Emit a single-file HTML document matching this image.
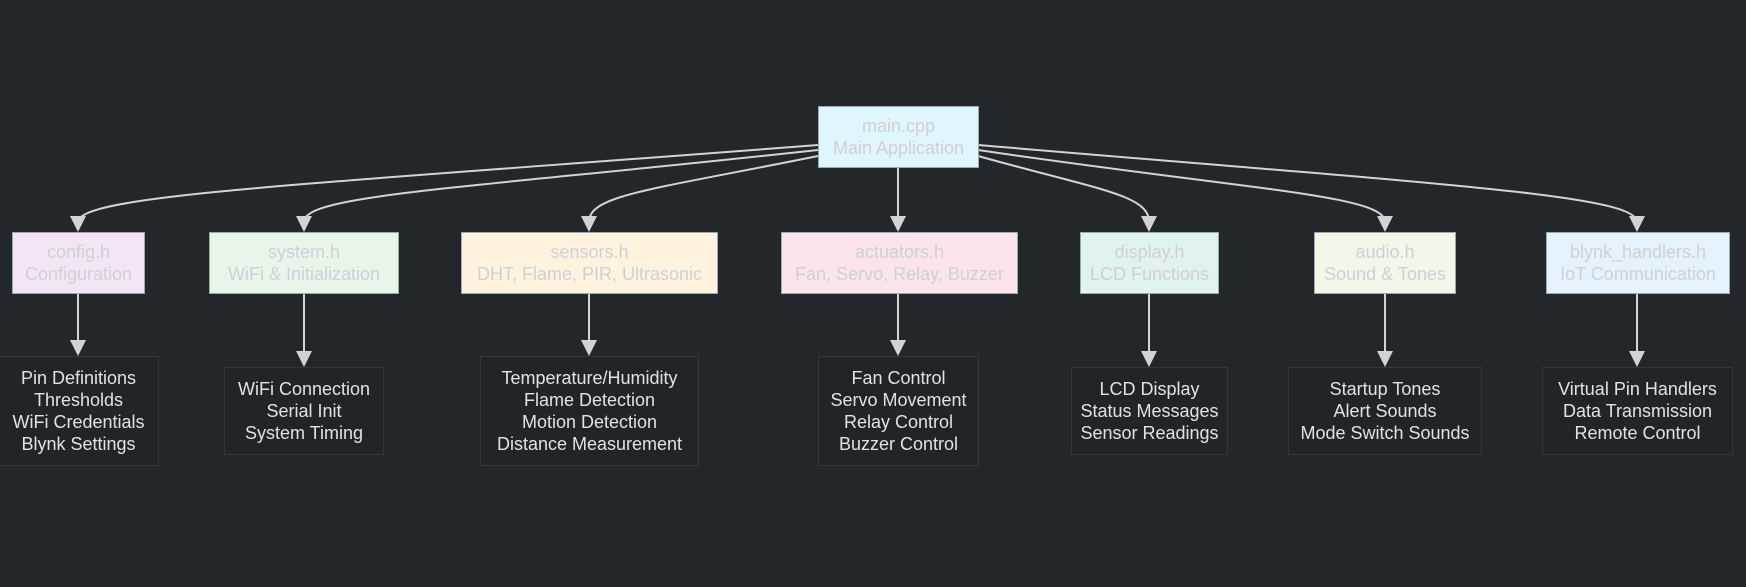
<!DOCTYPE html>
<html><head><meta charset="utf-8"><style>
html,body{margin:0;padding:0;background:#23272b;}
body{width:1746px;height:587px;position:relative;overflow:hidden;font-family:"Liberation Sans",sans-serif;}
.b{position:absolute;box-sizing:border-box;display:flex;flex-direction:column;justify-content:center;align-items:center;text-align:center;font-size:18px;line-height:22px;white-space:nowrap;}
.l{color:#cfd0d4;border:1.5px solid #9aa;}
.d{background:#212529;border:1px solid #34383c;color:#e2e2e4;}
svg{position:absolute;left:0;top:0;}
</style></head><body>
<svg width="1746" height="587">
<g stroke="#d3d3d3" stroke-width="2" fill="none">
<path d="M818,145 C300,185 78,195 78,222"/>
<path d="M818,150 C450,190 304,195 304,222"/>
<path d="M818,156 C650,190 589,195 589,222"/>
<path d="M898,168 L898,222"/>
<path d="M978,156 C1100,190 1149,195 1149,222"/>
<path d="M978,150 C1250,190 1385,195 1385,222"/>
<path d="M978,145 C1450,185 1637,195 1637,222"/>
<path d="M78,294 L78,345"/>
<path d="M304,294 L304,356"/>
<path d="M589,294 L589,345"/>
<path d="M898,294 L898,345"/>
<path d="M1149,294 L1149,356"/>
<path d="M1385,294 L1385,356"/>
<path d="M1637,294 L1637,356"/>
</g>
<g fill="#d3d3d3">
<path d="M70,216 L86,216 L78,232 z"/>
<path d="M296,216 L312,216 L304,232 z"/>
<path d="M581,216 L597,216 L589,232 z"/>
<path d="M890,216 L906,216 L898,232 z"/>
<path d="M1141,216 L1157,216 L1149,232 z"/>
<path d="M1377,216 L1393,216 L1385,232 z"/>
<path d="M1629,216 L1645,216 L1637,232 z"/>
<path d="M70,340 L86,340 L78,356 z"/>
<path d="M296,351 L312,351 L304,367 z"/>
<path d="M581,340 L597,340 L589,356 z"/>
<path d="M890,340 L906,340 L898,356 z"/>
<path d="M1141,351 L1157,351 L1149,367 z"/>
<path d="M1377,351 L1393,351 L1385,367 z"/>
<path d="M1629,351 L1645,351 L1637,367 z"/>
</g>
</svg>
<div class="b l" style="left:818px;top:106px;width:161px;height:62px;background:#e1f5fe;">main.cpp<br>Main Application</div>
<div class="b l" style="left:12px;top:232px;width:133px;height:62px;background:#f3e5f5;">config.h<br>Configuration</div>
<div class="b l" style="left:209px;top:232px;width:190px;height:62px;background:#e8f5e9;">system.h<br>WiFi &amp; Initialization</div>
<div class="b l" style="left:461px;top:232px;width:257px;height:62px;background:#fff3e0;">sensors.h<br>DHT, Flame, PIR, Ultrasonic</div>
<div class="b l" style="left:781px;top:232px;width:237px;height:62px;background:#fce4ec;">actuators.h<br>Fan, Servo, Relay, Buzzer</div>
<div class="b l" style="left:1080px;top:232px;width:139px;height:62px;background:#e0f2f1;">display.h<br>LCD Functions</div>
<div class="b l" style="left:1314px;top:232px;width:142px;height:62px;background:#f1f8e9;">audio.h<br>Sound &amp; Tones</div>
<div class="b l" style="left:1546px;top:232px;width:184px;height:62px;background:#e3f2fd;">blynk_handlers.h<br>IoT Communication</div>
<div class="b d" style="left:-2px;top:356px;width:161px;height:110px;">Pin Definitions<br>Thresholds<br>WiFi Credentials<br>Blynk Settings</div>
<div class="b d" style="left:224px;top:367px;width:160px;height:88px;">WiFi Connection<br>Serial Init<br>System Timing</div>
<div class="b d" style="left:480px;top:356px;width:219px;height:110px;">Temperature/Humidity<br>Flame Detection<br>Motion Detection<br>Distance Measurement</div>
<div class="b d" style="left:818px;top:356px;width:161px;height:110px;">Fan Control<br>Servo Movement<br>Relay Control<br>Buzzer Control</div>
<div class="b d" style="left:1071px;top:367px;width:157px;height:88px;">LCD Display<br>Status Messages<br>Sensor Readings</div>
<div class="b d" style="left:1288px;top:367px;width:194px;height:88px;">Startup Tones<br>Alert Sounds<br>Mode Switch Sounds</div>
<div class="b d" style="left:1542px;top:367px;width:191px;height:88px;">Virtual Pin Handlers<br>Data Transmission<br>Remote Control</div>
</body></html>
